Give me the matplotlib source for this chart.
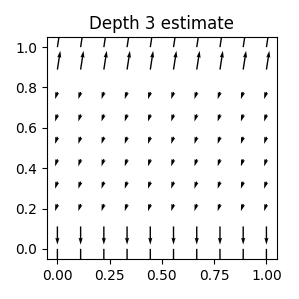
import numpy as np
import matplotlib
matplotlib.use("Agg")
import matplotlib.pyplot as plt

xs = np.linspace(0, 1, 10)
ys = np.linspace(0, 1, 10)
# per-row vector components (rows from y=0 to y=1), constant across columns
row_u = [0.0, 0.0, -0.12, -0.12, -0.12, -0.12, -0.12, -0.12, 0.15, 0.15]
row_v = [-0.95, -0.95, -0.37, -0.37, -0.37, -0.37, -0.37, -0.37, 0.98, 0.98]

X, Y = np.meshgrid(xs, ys)
U = np.tile(np.array(row_u)[:, None], (1, len(xs)))
V = np.tile(np.array(row_v)[:, None], (1, len(xs)))

fig = plt.figure(figsize=(2.99, 2.99), dpi=100)
ax = fig.add_axes([0.157, 0.134, 0.769, 0.742])
ax.quiver(X, Y, U, V, scale=12)
ax.set_xlim(-0.05, 1.05)
ax.set_ylim(-0.05, 1.05)
ax.set_xticks([0, 0.25, 0.5, 0.75, 1.0])
ax.set_title("Depth 3 estimate")
fig.savefig("out.png", dpi=100)
